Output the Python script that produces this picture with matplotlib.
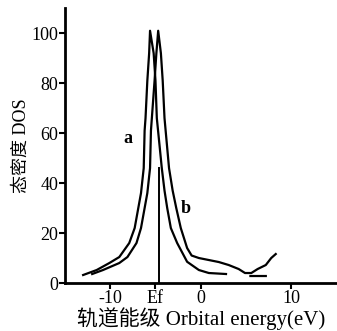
import matplotlib
matplotlib.use('Agg')
import matplotlib.pyplot as plt
import numpy as np

# 字体：西文用衬线体，中文回退到 Noto Sans CJK
plt.rcParams['font.family'] = ['Liberation Serif', 'Noto Sans CJK SC']

# 曲线 a（左侧较宽的峰），尾部有一段断开的平线
a_e = [-13.0, -11.5, -10.1, -9.0, -7.9, -7.3, -6.6, -6.3, -6.2, -6.1, -5.9, -5.7, -5.6,
       -5.2, -5.0, -4.85, -4.3, -4.0, -3.7, -3.3, -2.6, -1.5, -0.2, 0.9, 2.8,
       np.nan, 5.5, 7.2]
a_dos = [3.2, 5.2, 8, 10.4, 16, 22, 36, 46, 61, 66, 81, 92, 101,
         92, 81, 66, 46, 37, 30, 22, 16, 8.5, 5.2, 4, 3.6,
         np.nan, 2.8, 2.8]

# 曲线 b（右侧的峰）
b_e = [-12.0, -10.8, -9.0, -8.1, -7.1, -6.6, -5.9, -5.6, -5.5, -5.4, -5.1, -4.9, -4.7,
       -4.4, -4.2, -4.0, -3.5, -3.1, -2.7, -2.2, -1.5, -1.0, -0.2, 0.9, 2.0, 3.1,
       4.2, 4.9, 5.6, 6.3, 7.2, 7.8, 8.3]
b_dos = [3.6, 5.2, 8, 10.4, 16, 22, 36, 46, 61, 66, 81, 92, 101,
         92, 81, 66, 46, 37, 30, 22, 14, 11, 10, 9.2, 8.4, 7.2,
         5.6, 4, 4, 5.6, 7.2, 10, 11.6]

# 费米能级
ef = -4.6
ef_top = 46

x_ticks = [-10, -5, 0, 10]
x_ticklabels = ['-10', 'Ef', '0', '10']
y_ticks = [0, 20, 40, 60, 80, 100]

fig = plt.figure(figsize=(3.37, 3.31), dpi=100)
ax = fig.add_axes([0.193, 0.145, 0.805, 0.83])

ax.plot(a_e, a_dos, color='black', lw=1.6)
ax.plot(b_e, b_dos, color='black', lw=1.6)
ax.plot([ef, ef], [0, ef_top], color='black', lw=1.4)

ax.text(-8.1, 58, 'a', fontsize=13, fontweight='bold', ha='center', va='center')
ax.text(-1.6, 30, 'b', fontsize=13, fontweight='bold', ha='center', va='center')

ax.set_xlim(-15, 15)
ax.set_ylim(0, 110)
ax.set_xticks(x_ticks)
ax.set_xticklabels(x_ticklabels)
ax.set_yticks(y_ticks)
ax.tick_params(labelsize=13, width=1.5, length=4, pad=1)

for s in ['top', 'right']:
    ax.spines[s].set_visible(False)
for s in ['left', 'bottom']:
    ax.spines[s].set_linewidth(2)

ax.set_xlabel('轨道能级 Orbital energy(eV)', fontsize=15, labelpad=0)
ax.set_ylabel('态密度 DOS', fontsize=13, labelpad=1)

plt.savefig('out.png', dpi=100, facecolor='white')
